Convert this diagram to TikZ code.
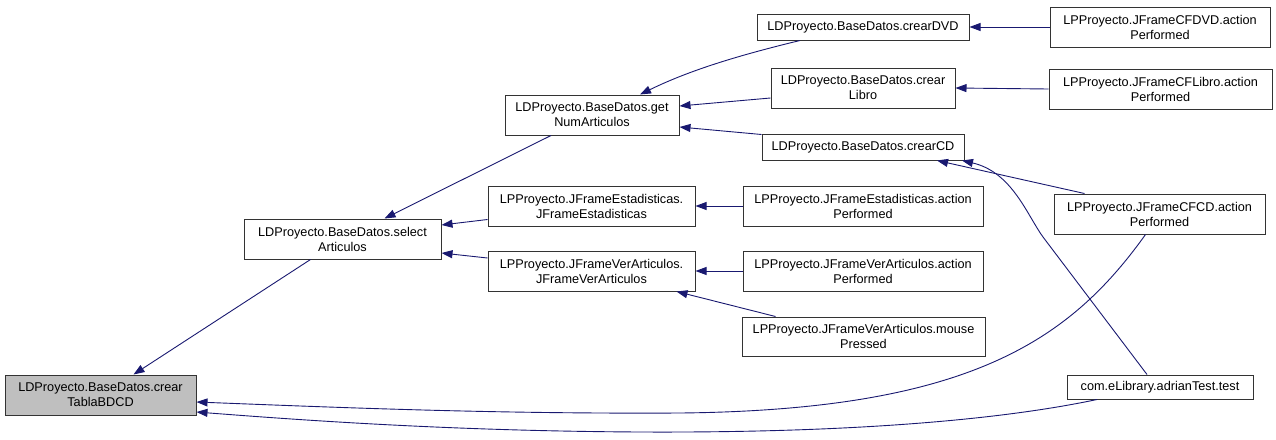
\documentclass[tikz,border=0pt]{standalone}
\usepackage{fontspec}
\setmainfont{Liberation Sans}
\usetikzlibrary{arrows.meta}
\definecolor{edgecol}{HTML}{191970}
\definecolor{boxgray}{HTML}{BFBFBF}
\tikzset{
  box/.style={draw=black!80, line width=1pt, fill=white, inner sep=0pt, align=center,
    font=\fontsize{12.7}{15}\selectfont},
  edge/.style={draw=edgecol, line width=0.9pt, -{Triangle[length=11pt,width=8pt]}},
}
\begin{document}
\begin{tikzpicture}[x=1pt,y=-1pt]
\useasboundingbox (0,0) rectangle (1276,439);
% nodes
\node[box, fill=boxgray, minimum width=191, minimum height=40] (tabla) at (100.5,395) {LDProyecto.BaseDatos.crear\\TablaBDCD};
\node[box, minimum width=197, minimum height=40] (select) at (342.5,239) {LDProyecto.BaseDatos.select\\Articulos};
\node[box, minimum width=174, minimum height=40] (getnum) at (592,115) {LDProyecto.BaseDatos.get\\NumArticulos};
\node[box, minimum width=212, minimum height=26] (dvd) at (863,27) {LDProyecto.BaseDatos.crearDVD};
\node[box, minimum width=184, minimum height=40] (libro) at (863,88) {LDProyecto.BaseDatos.crear\\Libro};
\node[box, minimum width=202, minimum height=26] (cd) at (863,147) {LDProyecto.BaseDatos.crearCD};
\node[box, minimum width=207, minimum height=40] (jfe) at (591.5,206) {LPProyecto.JFrameEstadisticas.\\JFrameEstadisticas};
\node[box, minimum width=207, minimum height=40] (jfv) at (591.5,271) {LPProyecto.JFrameVerArticulos.\\JFrameVerArticulos};
\node[box, minimum width=240, minimum height=40] (jfeap) at (863,206) {LPProyecto.JFrameEstadisticas.action\\Performed};
\node[box, minimum width=240, minimum height=40] (jfvap) at (863,271) {LPProyecto.JFrameVerArticulos.action\\Performed};
\node[box, minimum width=243, minimum height=39] (mouse) at (863.5,336.5) {LPProyecto.JFrameVerArticulos.mouse\\Pressed};
\node[box, minimum width=220, minimum height=40] (cfdvd) at (1160,27) {LPProyecto.JFrameCFDVD.action\\Performed};
\node[box, minimum width=223, minimum height=40] (cflibro) at (1160.5,89) {LPProyecto.JFrameCFLibro.action\\Performed};
\node[box, minimum width=211, minimum height=40] (cfcd) at (1159.5,214) {LPProyecto.JFrameCFCD.action\\Performed};
\node[box, minimum width=186, minimum height=24] (adrian) at (1160,387) {com.eLibrary.adrianTest.test};
% edges
\draw[edge] ([xshift=-32]select.south) -- ([xshift=33]tabla.north);
\draw[edge] ([xshift=-41]getnum.south) -- ([xshift=42]select.north);
\draw[edge] ([yshift=7]jfe.south west) -- ([yshift=14]select.east);
\draw[edge] ([yshift=13]jfv.west) -- ([yshift=-14]select.east);
\draw[edge] ([xshift=-63]dvd.south) .. controls (740,55) and (690,70) .. ([xshift=48]getnum.north);
\draw[edge] ([yshift=-10]libro.west) -- ([yshift=9]getnum.east);
\draw[edge] ([yshift=-1]cd.north west) -- ([yshift=-12]getnum.east);
\draw[edge] (jfeap.west) -- (jfe.east);
\draw[edge] (jfvap.west) -- (jfv.east);
\draw[edge] ([xshift=-88]mouse.north) -- ([xshift=85]jfv.south);
\draw[edge] (cfdvd.west) -- (dvd.east);
\draw[edge] (cflibro.west) -- (libro.east);
\draw[edge] ([xshift=-75]cfcd.north) -- ([xshift=74]cd.south);
\coordinate (a1) at (1043,237);
\draw[edge] ([xshift=-13]adrian.north) -- (a1) .. controls (1027,215) and (1012,172) .. ([xshift=99]cd.south);
\draw[edge] ([xshift=-14]cfcd.south) .. controls (1070,340) and (970,410) .. (680,413) .. controls (500,414) and (350,408) .. ([yshift=-7]tabla.east);
\draw[edge] ([xshift=-63]adrian.south) .. controls (1000,420) and (850,433) .. (640,432) .. controls (450,431) and (300,420) .. ([yshift=-17]tabla.east);
\end{tikzpicture}
\end{document}
